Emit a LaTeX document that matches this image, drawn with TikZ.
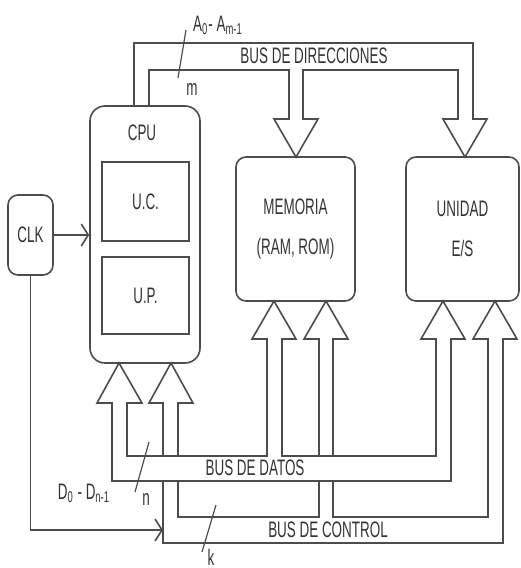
\documentclass[tikz,border=0pt]{standalone}
\usepackage{fontspec}
\newfontfamily\diagfont[FakeStretch=0.6]{Liberation Sans}
\usepackage{tikz}
\usetikzlibrary{arrows.meta}

\begin{document}
\begin{tikzpicture}[
      x=0.5pt, y=-0.5pt,
      txt/.style={font=\diagfont\fontsize{11.2}{20}\selectfont, text=black!80, inner sep=0pt, align=center},
      unit/.style={rectangle, rounded corners=5pt, draw=black!70, line width=0.8pt, txt},
      block/.style={rectangle, draw=black!70, line width=0.8pt, txt},
      bus/.style={draw=black!70, line width=0.8pt, fill=white, line join=miter},
      clkline/.style={draw=black!70, line width=0.8pt, -{Straight Barb[length=3.5pt, width=11pt]}},
      tick/.style={draw=black!70, line width=0.6pt}
    ]
    \useasboundingbox (0,0) rectangle (520,568);

    % Units
    \node[unit, rounded corners=7.5pt, minimum width=55pt, minimum height=128.5pt] (cpu) at (145,234.5) {};
    \node[txt] (cpulbl) at (142,133) {CPU};
    \node[block, minimum width=43.5pt, minimum height=39.5pt] (uc) at (145.5,201.5) {U.C.};
    \node[block, minimum width=43.5pt, minimum height=38.5pt] (up) at (145.5,295.5) {U.P.};
    \node[unit, minimum width=22.5pt, minimum height=40pt] (clk) at (30.5,235) {CLK};
    \node[unit, minimum width=59.5pt, minimum height=72pt] (mem) at (295.5,229) {MEMORIA\\(RAM, ROM)};
    \node[unit, minimum width=56.5pt, minimum height=72pt] (es) at (462.5,229) {UNIDAD\\E/S};

    % Control bus (drawn first, the data bus covers it where they cross)
    \draw[bus] (171,363) -- (193,403) -- (178,403) -- (178,517) -- (319,517) -- (319,339)
      -- (304,339) -- (326,301) -- (348,339) -- (333,339) -- (333,517) -- (488,517)
      -- (488,339) -- (473,339) -- (495,301) -- (517,339) -- (503,339) -- (503,543)
      -- (163,543) -- (163,403) -- (149,403) -- cycle;

    % Data bus
    \draw[bus] (119,363) -- (142,403) -- (127,403) -- (127,456) -- (267,456) -- (267,339)
      -- (252,339) -- (274,301) -- (296,339) -- (282,339) -- (282,456) -- (436,456)
      -- (436,339) -- (421,339) -- (443,301) -- (465,339) -- (451,339) -- (451,481)
      -- (112,481) -- (112,403) -- (97,403) -- cycle;

    % Address bus
    \draw[bus, fill=none] (134,106) -- (134,43) -- (473,43) -- (473,119) -- (487,119)
      -- (465,157) -- (443,119) -- (458,119) -- (458,70) -- (303,70) -- (303,119)
      -- (318,119) -- (296,157) -- (274,119) -- (289,119) -- (289,70) -- (149,70) -- (149,106);

    % Clock
    \coordinate (ctlin) at (163,530);
    \draw[clkline] (clk.east) -- (clk.east -| cpu.west);
    \draw[clkline] (clk.south) |- (ctlin);

    % Bus labels
    \node[txt] (dirlbl) at (314,56) {BUS DE DIRECCIONES};
    \node[txt] (datlbl) at (255,468) {BUS DE DATOS};
    \node[txt] (ctllbl) at (328,530) {BUS DE CONTROL};

    % Line counts
    \draw[tick] (186,30) -- (178,78);
    \node[txt, anchor=base] (alines) at (218,31) {A\textsubscript{0}- A\textsubscript{m-1}};
    \node[txt] (mlbl) at (192,89) {m};
    \draw[tick] (149,442) -- (135,492);
    \node[txt, anchor=base] (dlines) at (84,499) {D\textsubscript{0} - D\textsubscript{n-1}};
    \node[txt] (nlbl) at (146,499) {n};
    \draw[tick] (216,505) -- (202,552);
    \node[txt] (klbl) at (211,557) {k};
  \end{tikzpicture}
\end{document}
